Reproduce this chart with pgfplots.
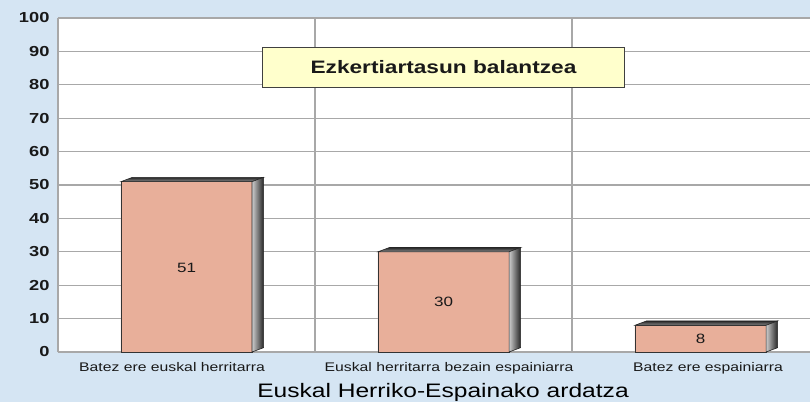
\documentclass[border=0pt]{standalone}
\usepackage{fontspec}
\setmainfont{Liberation Sans}[FakeStretch=1.26]
\usepackage{pgfplots}
\pgfplotsset{compat=1.18}
\definecolor{bgblue}{RGB}{213,229,243}
\definecolor{barsalmon}{RGB}{232,175,154}
\definecolor{titlefill}{RGB}{255,255,204}
\definecolor{gridgray}{RGB}{168,168,168}
\begin{document}
\begin{tikzpicture}[x=1pt,y=1pt]
\fill[bgblue] (0,0) rectangle (810,402);
\path[use as bounding box] (0,0) rectangle (810,402);
\begin{axis}[
  at={(58pt,50pt)}, anchor=south west,
  scale only axis, width=752pt, height=334pt,
  xmin=-0.5, xmax=2.426, ymin=0, ymax=100,
  axis x line=bottom, axis y line=left,
  axis line style={-, draw=gridgray, line width=2pt},
  axis background/.style={fill=white},
  ytick={0,10,...,100},
  xtick={0,1,2},
  xticklabels={{Batez ere euskal herritarra\hspace*{29pt}}, {\hspace*{11pt}Euskal herritarra bezain espainiarra}, {\hspace*{15pt}Batez ere espainiarra}},
  minor xtick={0.5,1.5},
  ymajorgrids, xminorgrids,
  grid style={draw=gridgray, line width=1.2pt},
  major tick length=0pt, minor tick length=0pt,
  tick style={draw=none},
  /pgf/number format/assume math mode=true,
  yticklabel style={font=\fontsize{14.5}{16}\selectfont\bfseries, text=black!90, xshift=-5pt},
  xticklabel style={font=\fontsize{12.5}{14}\selectfont, text=black!90, yshift=-7pt},
  xlabel={Euskal Herriko-Espainako ardatza},
  xlabel style={font=\fontsize{19.5}{22}\selectfont, at={(axis description cs:0.512,-0.12)}, anchor=center},
  clip=false,
]
\addplot[ybar, bar width=0.51, fill=barsalmon, draw=black!80, line width=0.8pt] coordinates {(0,51) (1,30) (2,8)};
% top faces
\addplot[top color=black!85, bottom color=black!45, draw=black!85, line width=0.6pt] coordinates {(-0.255,51) (-0.21,52.3) (0.3,52.3) (0.255,51)} --cycle;
\addplot[top color=black!85, bottom color=black!45, draw=black!85, line width=0.6pt] coordinates {(0.745,30) (0.79,31.3) (1.3,31.3) (1.255,30)} --cycle;
\addplot[top color=black!85, bottom color=black!45, draw=black!85, line width=0.6pt] coordinates {(1.745,8) (1.79,9.3) (2.3,9.3) (2.255,8)} --cycle;
% side faces
\addplot[left color=black!20, right color=black!85, draw=black!85, line width=0.6pt] coordinates {(0.255,0) (0.3,1.3) (0.3,52.3) (0.255,51)} --cycle;
\addplot[left color=black!20, right color=black!85, draw=black!85, line width=0.6pt] coordinates {(1.255,0) (1.3,1.3) (1.3,31.3) (1.255,30)} --cycle;
\addplot[left color=black!20, right color=black!85, draw=black!85, line width=0.6pt] coordinates {(2.255,0) (2.3,1.3) (2.3,9.3) (2.255,8)} --cycle;
% value labels
\addplot[draw=none, nodes near coords, point meta=explicit symbolic,
  nodes near coords style={anchor=center, font=\fontsize{13.5}{15}\selectfont, text=black!90}]
  coordinates {(0,25.3)[51] (1,15)[30] (2,3.9)[8]};
\node[draw=black!75, fill=titlefill, line width=0.8pt, minimum width=362pt, minimum height=40pt,
  font=\fontsize{18}{20}\selectfont\bfseries, text=black!90] at (axis cs:1,85.33) {Ezkertiartasun balantzea};
\end{axis}
\end{tikzpicture}
\end{document}
